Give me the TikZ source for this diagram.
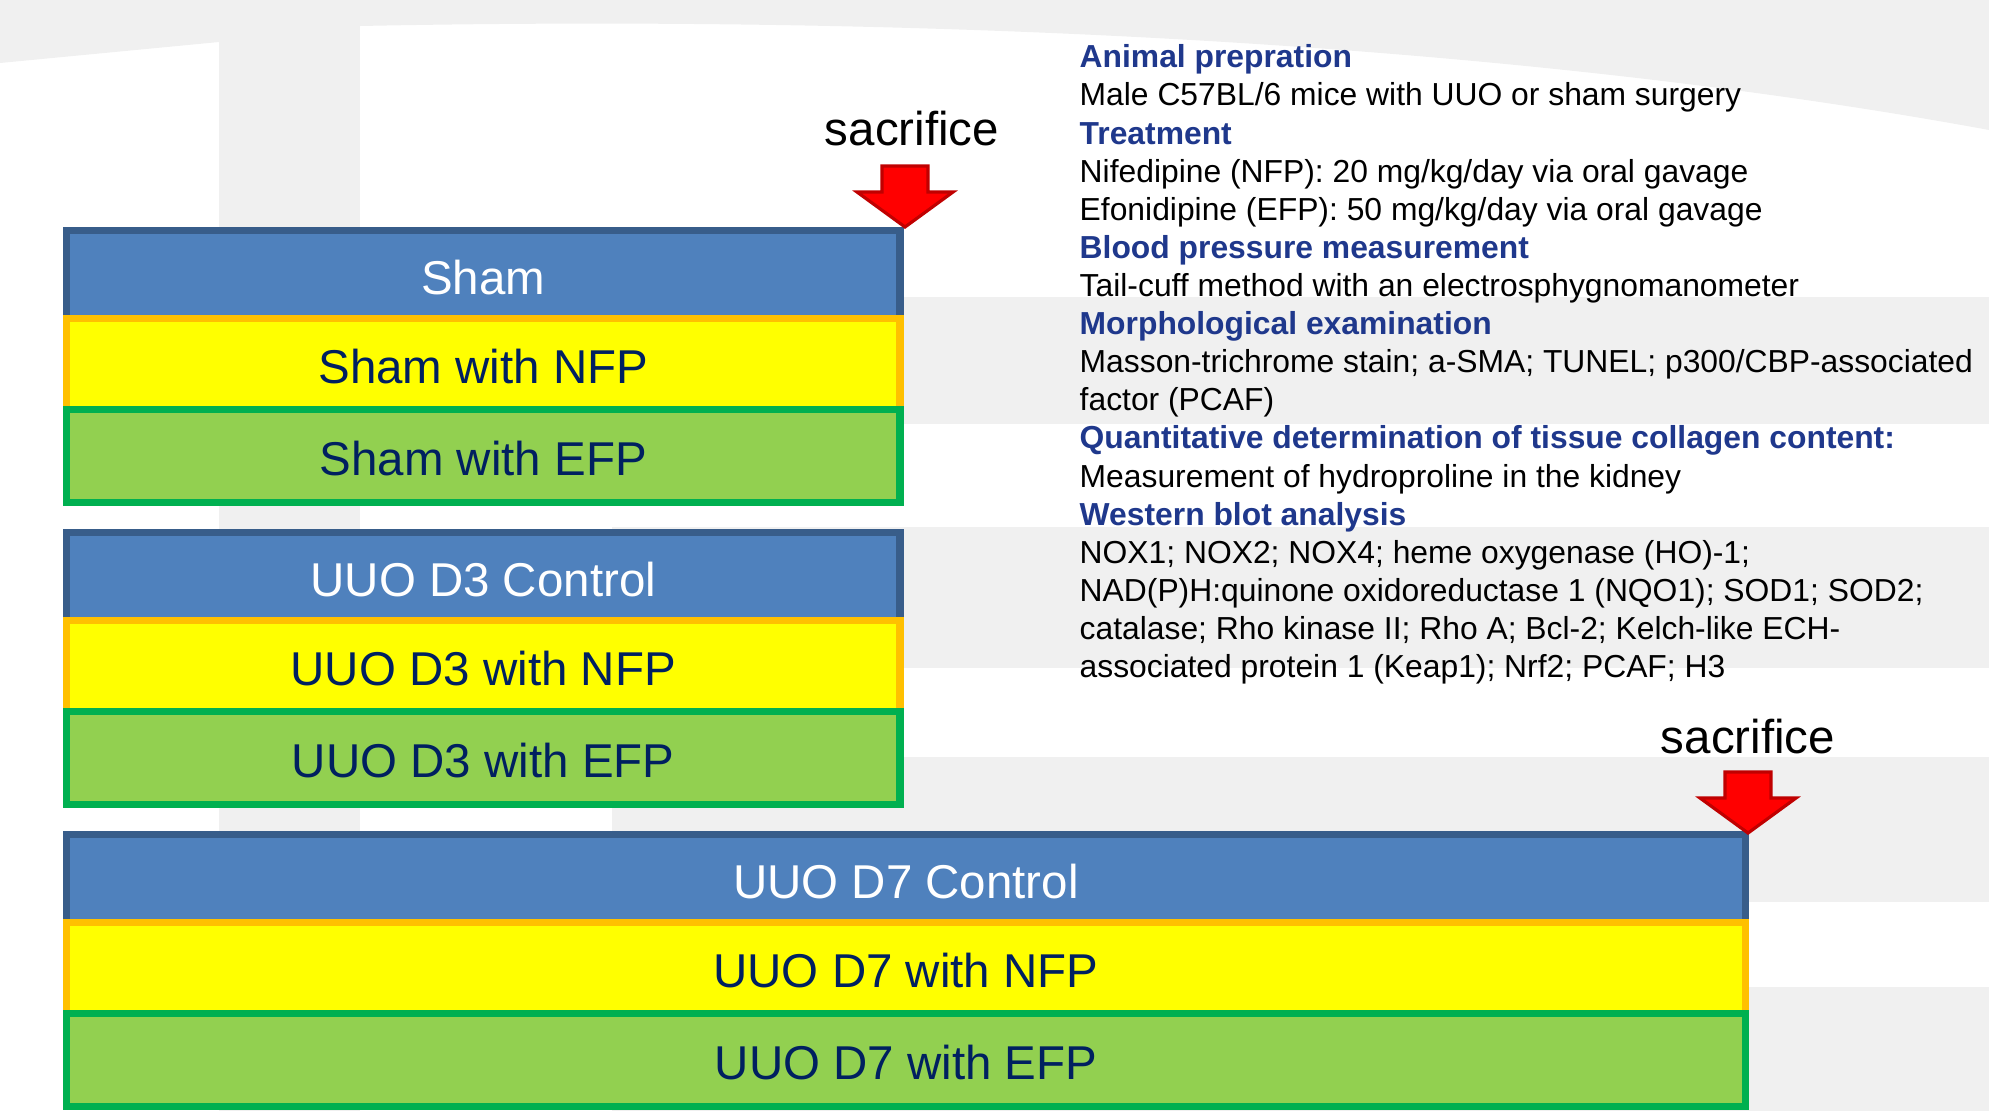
\documentclass[tikz,border=0pt]{standalone}
\usepackage{fontspec}
\setmainfont{Liberation Sans}

\definecolor{bandblue}{RGB}{79,129,189}
\definecolor{bandblueline}{RGB}{56,93,138}
\definecolor{bandyellow}{RGB}{255,255,0}
\definecolor{bandorange}{RGB}{255,192,0}
\definecolor{bandgreen}{RGB}{146,208,80}
\definecolor{bandgreenline}{RGB}{0,176,80}
\definecolor{navytext}{RGB}{0,32,96}
\definecolor{headblue}{RGB}{31,56,140}
\definecolor{bggray}{RGB}{240,240,240}
\definecolor{arrowred}{RGB}{255,0,0}
\definecolor{arrowdark}{RGB}{192,0,0}

\newcommand{\methodhead}[1]{\textcolor{headblue}{\textbf{#1}}}

\tikzset{
band/.style={draw, line width=2pt, outer sep=0pt, inner sep=0pt, anchor=north west,
  text height=0.4cm, text depth=0cm, font=\fontsize{13.5}{16}\selectfont},
ctrl/.style={band, fill=bandblue, draw=bandblueline, text=white, minimum height=0.875cm},
nfp/.style={band, fill=bandyellow, draw=bandorange, text=navytext, minimum height=0.91cm},
efp/.style={band, fill=bandgreen, draw=bandgreenline, text=navytext, minimum height=0.935cm},
sacarrow/.style={fill=arrowred, draw=arrowdark, line width=0.9pt, line join=miter},
sactext/.style={anchor=base, inner sep=0pt, font=\fontsize{13.5}{16}\selectfont}
}

\begin{document}
\begin{tikzpicture}[x=0.01cm, y=-0.01cm]
\useasboundingbox (0,0) rectangle (1989,1111);

\fill[bggray] (0,0) -- (1989,0) -- (1989,130) .. controls (1500,40) and (900,15) .. (360,26)
  -- (219,42) -- (0,63) -- cycle;
\fill[bggray] (219,0) rectangle (360,1111);
\foreach \a/\b in {297/424, 527/668, 757/902, 987/1111}
\fill[bggray] (612,\a) rectangle (1989,\b);

\node[ctrl, minimum width=8.33cm] (sham) at (66.5,230.5) {Sham};
\node[nfp, minimum width=8.33cm] (shamnfp) at (66.5,318) {Sham with NFP};
\node[efp, minimum width=8.33cm] (shamefp) at (66.5,409) {Sham with EFP};

\node[ctrl, minimum width=8.33cm] (dthree) at (66.5,532.5) {UUO D3 Control};
\node[nfp, minimum width=8.33cm] (dthreenfp) at (66.5,620) {UUO D3 with NFP};
\node[efp, minimum width=8.33cm] (dthreeefp) at (66.5,711) {UUO D3 with EFP};

\node[ctrl, minimum width=16.78cm] (dseven) at (66.5,834.5) {UUO D7 Control};
\node[nfp, minimum width=16.78cm] (dsevennfp) at (66.5,922) {UUO D7 with NFP};
\node[efp, minimum width=16.78cm] (dsevenefp) at (66.5,1013) {UUO D7 with EFP};

\foreach \x/\y in {905/227, 1748/833}
\draw[sacarrow] (\x-23,\y-61) -- (\x+23,\y-61) -- (\x+23,\y-35) -- (\x+48,\y-35)
  -- (\x,\y) -- (\x-48,\y-35) -- (\x-23,\y-35) -- cycle;

\node[sactext] (sacone) at (912,145) {sacrifice};
\node[sactext] (sactwo) at (1748,753) {sacrifice};

\node[anchor=north west, align=left, inner sep=0pt, font=\fontsize{9.05}{10.84}\selectfont]
  (methods) at (1079,44) {
\methodhead{Animal prepration}\\
Male C57BL/6 mice with UUO or sham surgery\\
\methodhead{Treatment}\\
Nifedipine (NFP): 20 mg/kg/day via oral gavage\\
Efonidipine (EFP): 50 mg/kg/day via oral gavage\\
\methodhead{Blood pressure measurement}\\
Tail-cuff method with an electrosphygnomanometer\\
\methodhead{Morphological examination}\\
Masson-trichrome stain; a-SMA; TUNEL; p300/CBP-associated\\
factor (PCAF)\\
\methodhead{Quantitative determination of tissue collagen content:}\\
Measurement of hydroproline in the kidney\\
\methodhead{Western blot analysis}\\
NOX1; NOX2; NOX4; heme oxygenase (HO)-1;\\
NAD(P)H:quinone oxidoreductase 1 (NQO1); SOD1; SOD2;\\
catalase; Rho kinase II; Rho A; Bcl-2; Kelch-like ECH-\\
associated protein 1 (Keap1); Nrf2; PCAF; H3};
\end{tikzpicture}
\end{document}
